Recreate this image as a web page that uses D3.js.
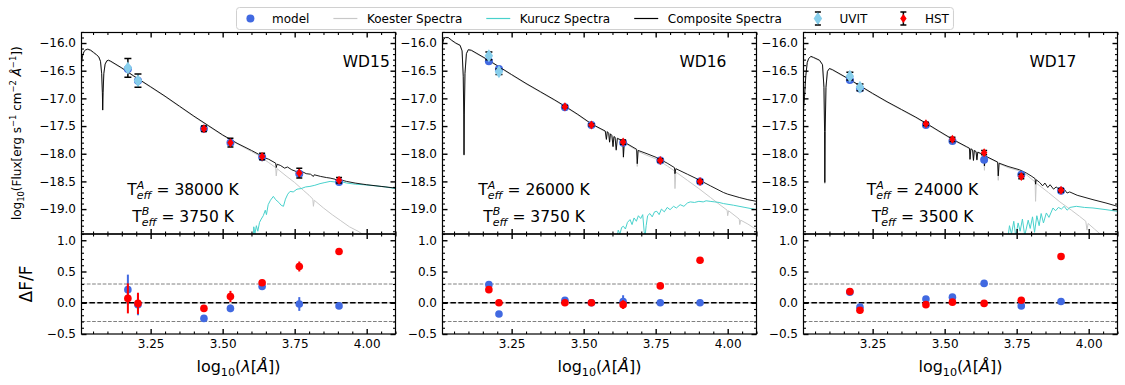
<!DOCTYPE html>
<html>
<head>
<meta charset="utf-8">
<script src="https://cdn.jsdelivr.net/npm/d3@7"></script>
<style>
  body { margin: 0; background: #fff; }
  svg text { font-family: "DejaVu Sans", sans-serif; fill: #000; }
</style>
</head>
<body>
<svg id="chart" width="1125" height="385"></svg>
<script>
////////////////////////////////////////////////////////////////////
/////////////////////////////// Data ///////////////////////////////
////////////////////////////////////////////////////////////////////

var starNames = ["WD15", "WD16", "WD17"];
var teffA = [38000, 26000, 24000];
var teffB = [3750, 3750, 3500];

var xTickValues = [3.25, 3.50, 3.75, 4.00];
var fluxTickValues = [-16.0, -16.5, -17.0, -17.5, -18.0, -18.5, -19.0];
var residTickValues = [-0.5, 0.0, 0.5, 1.0];
var residBands = [-0.3, 0.3];

var uvitLogLam = [3.171, 3.206];
var hstLogLam = [3.435, 3.527, 3.637, 3.766, 3.904];
var filterLogLam = [3.171, 3.206, 3.435, 3.527, 3.637, 3.766, 3.904];

// ---- WD15 ----
var wd15UvitFlux = [-16.45, -16.68];
var wd15UvitErr = [0.17, 0.12];
var wd15HstFlux = [-17.55, -17.80, -18.05, -18.35, -18.48];
var wd15HstErr = [0.05, 0.08, 0.06, 0.09, 0.05];
var wd15ModelFlux = [-16.47, -16.68, -17.55, -17.80, -18.06, -18.36, -18.51];
var wd15ResidModel = [0.21, -0.03, -0.25, -0.09, 0.26, -0.02, -0.05];
var wd15ResidModelErr = [0.24, 0.17, 0.02, 0.06, 0.03, 0.11, 0.02];
var wd15ResidSingle = [0.07, -0.01, -0.09, 0.10, 0.32, 0.58, 0.82];
var wd15ResidSingleErr = [0.24, 0.17, 0.03, 0.09, 0.05, 0.08, 0.03];
var wd15Koester = [
  [3.010,-16.37],[3.014,-16.23],[3.019,-16.16],[3.025,-16.13],[3.032,-16.12],[3.042,-16.14],
  [3.052,-16.18],[3.062,-16.22],[3.070,-16.26],[3.076,-16.34],[3.080,-16.56],[3.0825,-16.90],
  [3.0836,-17.22],[3.0850,-16.90],[3.0875,-16.56],[3.092,-16.39],[3.098,-16.33],[3.104,-16.32],
  [3.112,-16.34],[3.15,-16.46],[3.19,-16.60],[3.25,-16.80],[3.30,-16.97],[3.35,-17.15],
  [3.40,-17.33],[3.45,-17.50],[3.50,-17.67],[3.55,-17.82],[3.60,-17.96],[3.625,-18.03],
  [3.635,-18.07],[3.637,-18.15],[3.640,-18.09],[3.66,-18.16],[3.684,-18.25],[3.686,-18.40],
  [3.689,-18.27],[3.72,-18.40],[3.75,-18.52],[3.78,-18.66],[3.80,-18.75],[3.813,-18.82],
  [3.815,-18.95],[3.818,-18.84],[3.85,-18.98],[3.88,-19.10],[3.91,-19.21],[3.94,-19.32],
  [3.97,-19.40],[4.00,-19.50]
];
var wd15Kurucz = [
  [3.606,-19.60],[3.608,-19.32],[3.612,-19.45],[3.617,-19.30],[3.622,-19.40],[3.628,-19.24],
  [3.634,-19.18],[3.641,-19.12],[3.648,-19.02],[3.652,-19.10],[3.658,-18.92],[3.666,-18.84],
  [3.676,-18.77],[3.684,-18.83],[3.695,-18.88],[3.703,-18.93],[3.711,-18.95],[3.718,-18.82],
  [3.726,-18.73],[3.734,-18.68],[3.745,-18.69],[3.758,-18.64],[3.772,-18.63],[3.788,-18.60],
  [3.803,-18.59],[3.820,-18.57],[3.838,-18.54],[3.855,-18.52],[3.873,-18.50],[3.890,-18.51],
  [3.903,-18.56],[3.908,-18.50],[3.931,-18.53],[3.960,-18.55],[3.989,-18.56],[4.030,-18.58],
  [4.065,-18.60],[4.100,-18.63]
];
var wd15Composite = [
  [3.010,-16.36],[3.014,-16.22],[3.019,-16.15],[3.025,-16.12],[3.032,-16.11],[3.042,-16.13],
  [3.052,-16.17],[3.062,-16.21],[3.070,-16.25],[3.076,-16.33],[3.080,-16.55],[3.0825,-16.90],
  [3.0836,-17.21],[3.0850,-16.90],[3.0875,-16.55],[3.092,-16.38],[3.098,-16.32],[3.104,-16.31],
  [3.112,-16.33],[3.15,-16.45],[3.19,-16.59],[3.25,-16.79],[3.30,-16.96],[3.35,-17.14],
  [3.40,-17.32],[3.45,-17.49],[3.50,-17.66],[3.55,-17.81],[3.60,-17.94],[3.625,-18.01],
  [3.635,-18.04],[3.637,-18.12],[3.640,-18.06],[3.66,-18.10],[3.684,-18.17],[3.686,-18.25],
  [3.689,-18.19],[3.70,-18.21],[3.715,-18.26],[3.725,-18.24],[3.74,-18.29],[3.76,-18.33],
  [3.775,-18.32],[3.79,-18.36],[3.805,-18.37],[3.815,-18.41],[3.818,-18.38],[3.84,-18.41],
  [3.86,-18.43],[3.873,-18.44],[3.89,-18.46],[3.903,-18.50],[3.908,-18.47],[3.93,-18.50],
  [3.96,-18.53],[4.00,-18.56],[4.05,-18.59],[4.10,-18.62]
];

// ---- WD16 ----
var wd16UvitFlux = [-16.23, -16.52];
var wd16UvitErr = [0.07, 0.05];
var wd16HstFlux = [-17.15, -17.48, -17.79, -18.12, -18.50];
var wd16HstErr = [0.02, 0.02, 0.04, 0.03, 0.03];
var wd16ModelFlux = [-16.33, -16.47, -17.16, -17.48, -17.80, -18.12, -18.50];
var wd16ResidModel = [0.29, -0.18, 0.04, 0.00, 0.02, 0.00, 0.00];
var wd16ResidModelErr = [0.02, 0.02, 0.02, 0.02, 0.10, 0.02, 0.02];
var wd16ResidSingle = [0.21, 0.00, 0.00, 0.00, -0.03, 0.27, 0.68];
var wd16ResidSingleErr = [0.02, 0.02, 0.02, 0.02, 0.07, 0.02, 0.02];
var wd16Koester = [
  [3.010,-16.03],[3.014,-15.94],[3.020,-15.91],[3.030,-15.91],[3.042,-15.96],[3.056,-16.01],
  [3.071,-16.05],[3.078,-16.15],[3.082,-16.60],[3.0838,-17.30],[3.0847,-18.03],[3.0858,-17.30],
  [3.088,-16.55],[3.093,-16.20],[3.0996,-16.13],[3.11,-16.14],[3.17,-16.32],[3.25,-16.58],
  [3.30,-16.74],[3.35,-16.89],[3.40,-17.04],[3.435,-17.15],[3.48,-17.30],[3.527,-17.47],
  [3.56,-17.56],[3.575,-17.60],[3.579,-17.75],[3.582,-17.61],[3.587,-17.64],[3.590,-17.80],
  [3.593,-17.65],[3.598,-17.68],[3.602,-17.88],[3.605,-17.70],[3.609,-17.71],[3.613,-17.95],
  [3.617,-17.73],[3.636,-17.78],[3.638,-18.08],[3.641,-17.80],[3.684,-17.94],[3.686,-18.23],
  [3.689,-17.96],[3.72,-18.03],[3.754,-18.10],[3.79,-18.22],[3.815,-18.31],[3.817,-18.63],
  [3.820,-18.33],[3.86,-18.48],[3.90,-18.63],[3.94,-18.79],[3.98,-18.95],[3.998,-19.02],
  [4.000,-19.12],[4.003,-19.03],[4.040,-19.18],[4.042,-19.28],[4.045,-19.20],[4.070,-19.27],
  [4.100,-19.37]
];
var wd16Kurucz = [
  [3.615,-19.55],[3.620,-19.38],[3.626,-19.45],[3.632,-19.33],[3.638,-19.31],[3.645,-19.36],
  [3.652,-19.24],[3.661,-19.19],[3.668,-19.28],[3.675,-19.16],[3.683,-19.22],[3.690,-19.12],
  [3.698,-19.17],[3.705,-19.10],[3.710,-19.40],[3.713,-19.50],[3.717,-19.30],[3.722,-19.12],
  [3.730,-19.08],[3.738,-19.14],[3.746,-19.05],[3.754,-19.04],[3.762,-19.10],[3.770,-19.00],
  [3.780,-19.05],[3.790,-18.97],[3.800,-19.01],[3.812,-18.95],[3.822,-18.98],[3.835,-18.92],
  [3.848,-18.95],[3.860,-18.89],[3.870,-18.87],[3.885,-18.88],[3.900,-18.86],[3.915,-18.87],
  [3.925,-18.85],[3.939,-18.86],[3.955,-18.87],[3.970,-18.88],[3.985,-18.90],[4.020,-18.93],
  [4.060,-18.97],[4.100,-19.01]
];
var wd16Composite = [
  [3.010,-16.02],[3.014,-15.93],[3.020,-15.90],[3.030,-15.90],[3.042,-15.95],[3.056,-16.00],
  [3.071,-16.04],[3.078,-16.14],[3.082,-16.60],[3.0838,-17.30],[3.0847,-18.02],[3.0858,-17.30],
  [3.088,-16.55],[3.093,-16.19],[3.0996,-16.12],[3.11,-16.13],[3.17,-16.31],[3.25,-16.57],
  [3.30,-16.73],[3.35,-16.88],[3.40,-17.03],[3.435,-17.14],[3.48,-17.29],[3.527,-17.46],
  [3.56,-17.55],[3.575,-17.59],[3.579,-17.74],[3.582,-17.60],[3.587,-17.63],[3.590,-17.79],
  [3.593,-17.64],[3.598,-17.67],[3.602,-17.87],[3.605,-17.69],[3.609,-17.70],[3.613,-17.93],
  [3.617,-17.72],[3.636,-17.77],[3.638,-18.06],[3.641,-17.79],[3.684,-17.92],[3.686,-18.18],
  [3.689,-17.94],[3.72,-18.00],[3.754,-18.07],[3.79,-18.17],[3.815,-18.25],[3.817,-18.36],
  [3.820,-18.27],[3.86,-18.37],[3.90,-18.47],[3.94,-18.58],[3.985,-18.70],[4.00,-18.73],
  [4.04,-18.79],[4.07,-18.83],[4.10,-18.86]
];

// ---- WD17 ----
var wd17UvitFlux = [-16.60, -16.80];
var wd17UvitErr = [0.07, 0.06];
var wd17HstFlux = [-17.46, -17.74, -17.98, -18.41, -18.66];
var wd17HstErr = [0.03, 0.04, 0.04, 0.04, 0.03];
var wd17ModelFlux = [-16.67, -16.82, -17.48, -17.77, -18.11, -18.38, -18.67];
var wd17ResidModel = [0.17, -0.07, 0.06, 0.09, 0.31, -0.05, 0.02];
var wd17ResidModelErr = [0.02, 0.03, 0.02, 0.02, 0.02, 0.02, 0.02];
var wd17ResidSingle = [0.18, -0.12, -0.03, 0.01, -0.01, 0.04, 0.74];
var wd17ResidSingleErr = [0.03, 0.05, 0.02, 0.02, 0.02, 0.02, 0.02];
var wd17Koester = [
  [3.010,-17.20],[3.0135,-16.98],[3.018,-16.60],[3.023,-16.36],[3.028,-16.29],[3.0355,-16.25],
  [3.045,-16.27],[3.0656,-16.32],[3.076,-16.40],[3.081,-16.80],[3.0832,-17.60],[3.084,-18.54],
  [3.0852,-17.60],[3.088,-16.80],[3.093,-16.52],[3.100,-16.47],[3.110,-16.49],[3.171,-16.67],
  [3.25,-16.92],[3.30,-17.07],[3.35,-17.21],[3.40,-17.35],[3.436,-17.46],[3.48,-17.60],
  [3.528,-17.75],[3.575,-17.88],[3.586,-17.91],[3.588,-18.11],[3.591,-17.92],[3.597,-17.94],
  [3.600,-18.13],[3.603,-17.95],[3.609,-17.97],[3.612,-18.12],[3.615,-17.98],[3.636,-18.03],
  [3.638,-18.30],[3.641,-18.05],[3.684,-18.16],[3.686,-18.48],[3.689,-18.18],[3.72,-18.25],
  [3.76,-18.31],[3.784,-18.38],[3.80,-18.45],[3.814,-18.51],[3.8156,-18.86],[3.818,-18.53],
  [3.86,-18.70],[3.90,-18.87],[3.94,-19.02],[3.968,-19.13],[3.990,-19.22],[3.994,-19.38],
  [3.998,-19.26],[4.020,-19.36],[4.040,-19.45],[4.060,-19.53]
];
var wd17Kurucz = [
  [3.719,-19.55],[3.725,-19.30],[3.732,-19.45],[3.740,-19.22],[3.747,-19.50],[3.755,-19.25],
  [3.762,-19.40],[3.770,-19.18],[3.778,-19.48],[3.790,-19.20],[3.797,-19.35],[3.805,-19.14],
  [3.812,-19.42],[3.820,-19.12],[3.828,-19.30],[3.835,-19.08],[3.843,-19.25],[3.853,-19.07],
  [3.862,-19.15],[3.876,-18.98],[3.885,-19.03],[3.895,-18.97],[3.905,-19.00],[3.915,-18.95],
  [3.925,-19.02],[3.935,-18.97],[3.957,-18.95],[3.985,-18.97],[4.015,-18.98],[4.060,-19.01],
  [4.100,-19.04]
];
var wd17Composite = [
  [3.010,-17.18],[3.0135,-16.97],[3.018,-16.59],[3.023,-16.35],[3.028,-16.28],[3.0355,-16.24],
  [3.045,-16.26],[3.0656,-16.31],[3.076,-16.39],[3.081,-16.80],[3.0832,-17.60],[3.084,-18.52],
  [3.0852,-17.60],[3.088,-16.80],[3.093,-16.51],[3.100,-16.46],[3.110,-16.48],[3.171,-16.66],
  [3.25,-16.91],[3.30,-17.06],[3.35,-17.20],[3.40,-17.34],[3.436,-17.45],[3.48,-17.59],
  [3.528,-17.74],[3.575,-17.87],[3.586,-17.90],[3.588,-18.10],[3.591,-17.91],[3.597,-17.93],
  [3.600,-18.12],[3.603,-17.94],[3.609,-17.96],[3.612,-18.11],[3.615,-17.97],[3.636,-18.02],
  [3.638,-18.22],[3.641,-18.04],[3.684,-18.15],[3.686,-18.40],[3.689,-18.17],[3.72,-18.23],
  [3.76,-18.29],[3.784,-18.35],[3.80,-18.40],[3.814,-18.45],[3.8156,-18.55],[3.818,-18.47],
  [3.83,-18.52],[3.840,-18.58],[3.848,-18.53],[3.858,-18.61],[3.866,-18.56],[3.878,-18.64],
  [3.887,-18.60],[3.897,-18.64],[3.905,-18.66],[3.915,-18.64],[3.925,-18.71],[3.934,-18.69],
  [3.96,-18.75],[4.015,-18.83],[4.06,-18.89],[4.10,-18.95]
];

var panels = [
  { name: starNames[0], teffA: teffA[0], teffB: teffB[0],
    uvit: wd15UvitFlux, uvitErr: wd15UvitErr, hst: wd15HstFlux, hstErr: wd15HstErr, model: wd15ModelFlux,
    residModel: wd15ResidModel, residModelErr: wd15ResidModelErr,
    residSingle: wd15ResidSingle, residSingleErr: wd15ResidSingleErr,
    koester: wd15Koester, kurucz: wd15Kurucz, composite: wd15Composite },
  { name: starNames[1], teffA: teffA[1], teffB: teffB[1],
    uvit: wd16UvitFlux, uvitErr: wd16UvitErr, hst: wd16HstFlux, hstErr: wd16HstErr, model: wd16ModelFlux,
    residModel: wd16ResidModel, residModelErr: wd16ResidModelErr,
    residSingle: wd16ResidSingle, residSingleErr: wd16ResidSingleErr,
    koester: wd16Koester, kurucz: wd16Kurucz, composite: wd16Composite },
  { name: starNames[2], teffA: teffA[2], teffB: teffB[2],
    uvit: wd17UvitFlux, uvitErr: wd17UvitErr, hst: wd17HstFlux, hstErr: wd17HstErr, model: wd17ModelFlux,
    residModel: wd17ResidModel, residModelErr: wd17ResidModelErr,
    residSingle: wd17ResidSingle, residSingleErr: wd17ResidSingleErr,
    koester: wd17Koester, kurucz: wd17Kurucz, composite: wd17Composite }
];

////////////////////////////////////////////////////////////////////
///////////////////////////// Layout ///////////////////////////////
////////////////////////////////////////////////////////////////////

var panelLeft = [81.5, 442.5, 803.5];
var panelWidth = 314;
var topY = 32.5, midY = 234, botY = 334;
var hTop = midY - topY, hBot = botY - midY;
var titleCx = [284.8, 260.5, 249.5];
var teffCx = [102.5, 92.5, 120];

var col = {
  model: "#4169e1",
  koester: "#c8c8c8",
  kurucz: "#48d1cc",
  composite: "#000",
  uvit: "#87ceeb",
  hst: "#ff0000"
};

var svg = d3.select("#chart");
svg.append("rect").attr("width", 1125).attr("height", 385).attr("fill", "#fff");
var defs = svg.append("defs");

var x = d3.scaleLinear().domain([3.01, 4.10]).range([0, panelWidth]);
var yF = d3.scaleLinear().domain([-19.45, -15.81]).range([hTop, 0]);
var yR = d3.scaleLinear().domain([-0.5, 1.1]).range([hBot, 0]);

var xMinor = d3.range(61, 83).map(function(k) { return k / 20; })
  .filter(function(v) { return xTickValues.indexOf(v) < 0; });
var fluxMinor = d3.range(-194, -157).map(function(k) { return k / 10; })
  .filter(function(v) { return Math.round(v * 10) % 5 !== 0; });
var residMinor = d3.range(-5, 12).map(function(k) { return k / 10; })
  .filter(function(v) { return Math.round(v * 10) % 5 !== 0; });

function fmt(digits) {
  return function(d) { return d3.format("." + digits + "f")(d).replace("-", "\u2212"); };
}

//Inward ticks on one side of a frame
function drawTicks(g, scale, side, major, minor, w, h, labelFmt) {
  var axisFn = { left: d3.axisLeft, right: d3.axisRight, top: d3.axisTop, bottom: d3.axisBottom }[side];
  var tr = side === "right" ? "translate(" + w + ",0)" : side === "bottom" ? "translate(0," + h + ")" : null;
  var maj = g.append("g").attr("transform", tr)
    .call(axisFn(scale).tickValues(major).tickSize(-5).tickSizeOuter(0)
      .tickPadding(side === "left" ? 5.5 : 5).tickFormat(labelFmt ? labelFmt : ""));
  var mnr = g.append("g").attr("transform", tr)
    .call(axisFn(scale).tickValues(minor).tickSize(-2.5).tickSizeOuter(0).tickFormat(""));
  maj.select(".domain").remove();
  mnr.select(".domain").remove();
  maj.attr("font-family", null).attr("font-size", 12);
  maj.selectAll("line").attr("stroke-width", 1.4);
  mnr.selectAll("line").attr("stroke-width", 1.1);
}

//Text with sub/superscripts and italics
function rich(sel, parts, size) {
  var shift = 0;
  parts.forEach(function(p) {
    var target = p[1] === "sub" ? size * 0.22 : p[1] === "sup" ? -size * 0.38 : 0;
    var ts = sel.append("tspan").text(p[0]).attr("dy", target - shift);
    shift = target;
    if (p[1] === "sub" || p[1] === "sup") ts.attr("font-size", size * 0.7);
    if (p[2]) ts.attr("font-style", "italic");
  });
}

function diamond(w, h) {
  return "M0," + (-h / 2) + "L" + (w / 2) + ",0L0," + (h / 2) + "L" + (-w / 2) + ",0Z";
}

function errorBars(g, xs, ys, errs, yScale, color, cap, width) {
  xs.forEach(function(xv, i) {
    var cx = x(xv), y0 = yScale(ys[i] - errs[i]), y1 = yScale(ys[i] + errs[i]);
    g.append("line").attr("x1", cx).attr("x2", cx).attr("y1", y0).attr("y2", y1)
      .attr("stroke", color).attr("stroke-width", width);
    if (cap > 0) {
      [y0, y1].forEach(function(yy) {
        g.append("line").attr("x1", cx - cap).attr("x2", cx + cap).attr("y1", yy).attr("y2", yy)
          .attr("stroke", color).attr("stroke-width", width);
      });
    }
  });
}

////////////////////////////////////////////////////////////////////
///////////////////////////// Panels ///////////////////////////////
////////////////////////////////////////////////////////////////////

var line = d3.line()
  .x(function(d) { return x(d[0]); })
  .y(function(d) { return yF(d[1]); });

panels.forEach(function(p, i) {
  //---------------- SED panel ----------------
  var gt = svg.append("g").attr("transform", "translate(" + panelLeft[i] + "," + topY + ")");
  defs.append("clipPath").attr("id", "clipTop" + i)
    .append("rect").attr("width", panelWidth).attr("height", hTop);
  var plot = gt.append("g").attr("clip-path", "url(#clipTop" + i + ")");

  plot.append("path").datum(p.koester).attr("d", line)
    .attr("fill", "none").attr("stroke", col.koester).attr("stroke-width", 1);
  plot.append("path").datum(p.kurucz).attr("d", line)
    .attr("fill", "none").attr("stroke", col.kurucz).attr("stroke-width", 1);
  plot.append("path").datum(p.composite).attr("d", line)
    .attr("fill", "none").attr("stroke", col.composite).attr("stroke-width", 0.9);

  plot.selectAll(".model").data(d3.zip(filterLogLam, p.model)).enter()
    .append("circle").attr("class", "model")
    .attr("cx", function(d) { return x(d[0]); })
    .attr("cy", function(d) { return yF(d[1]); })
    .attr("r", 4).attr("fill", col.model);

  errorBars(plot, uvitLogLam, p.uvit, p.uvitErr, yF, "#000", 3.5, 1.5);
  plot.selectAll(".uvit").data(d3.zip(uvitLogLam, p.uvit)).enter()
    .append("path").attr("class", "uvit")
    .attr("transform", function(d) { return "translate(" + x(d[0]) + "," + yF(d[1]) + ")"; })
    .attr("d", diamond(8.5, 13)).attr("fill", col.uvit);

  errorBars(plot, hstLogLam, p.hst, p.hstErr, yF, "#000", 3, 1.5);
  plot.selectAll(".hst").data(d3.zip(hstLogLam, p.hst)).enter()
    .append("path").attr("class", "hst")
    .attr("transform", function(d) { return "translate(" + x(d[0]) + "," + yF(d[1]) + ")"; })
    .attr("d", diamond(6.5, 9)).attr("fill", col.hst);

  gt.append("text").attr("x", titleCx[i]).attr("y", 34.2)
    .attr("text-anchor", "middle").attr("font-size", 15.5).text(p.name);

  [[p.teffA, "A", 162.5], [p.teffB, "B", 189]].forEach(function(t) {
    var tx = gt.append("text").attr("x", 0).attr("y", t[2]).attr("font-size", 15.5);
    tx.append("tspan").text("T");
    var sup = tx.append("tspan").text(t[1]).attr("font-size", 11).attr("font-style", "italic").attr("dy", -6.5);
    var wSup = sup.node().getComputedTextLength();
    var sub = tx.append("tspan").text("eff").attr("font-size", 11).attr("font-style", "italic")
      .attr("dx", -wSup).attr("dy", 10.5);
    tx.append("tspan").text(" = " + t[0] + " K").attr("dy", -4);
    var bb = tx.node().getBBox();
    tx.attr("x", teffCx[i] - bb.width / 2);
  });

  gt.append("rect").attr("width", panelWidth).attr("height", hTop)
    .attr("fill", "none").attr("stroke", "#000").attr("stroke-width", 1.2);
  drawTicks(gt, yF, "left", fluxTickValues, fluxMinor, panelWidth, hTop, fmt(1));
  drawTicks(gt, yF, "right", fluxTickValues, fluxMinor, panelWidth, hTop, null);
  drawTicks(gt, x, "top", xTickValues, xMinor, panelWidth, hTop, null);
  drawTicks(gt, x, "bottom", xTickValues, xMinor, panelWidth, hTop, null);

  //---------------- Residual panel ----------------
  var gb = svg.append("g").attr("transform", "translate(" + panelLeft[i] + "," + midY + ")");

  residBands.forEach(function(v) {
    gb.append("line").attr("x1", 0).attr("x2", panelWidth).attr("y1", yR(v)).attr("y2", yR(v))
      .attr("stroke", "#808080").attr("stroke-width", 1).attr("stroke-dasharray", "3.7,1.6");
  });
  gb.append("line").attr("x1", 0).attr("x2", panelWidth).attr("y1", yR(0)).attr("y2", yR(0))
    .attr("stroke", "#d8d8d8").attr("stroke-width", 1.5);
  gb.append("line").attr("x1", 0).attr("x2", panelWidth).attr("y1", yR(0)).attr("y2", yR(0))
    .attr("stroke", "#000").attr("stroke-width", 1.5).attr("stroke-dasharray", "5.5,2.4");

  errorBars(gb, filterLogLam, p.residModel, p.residModelErr, yR, col.model, 0, 2);
  gb.selectAll(".rm").data(d3.zip(filterLogLam, p.residModel)).enter()
    .append("circle").attr("class", "rm")
    .attr("cx", function(d) { return x(d[0]); })
    .attr("cy", function(d) { return yR(d[1]); })
    .attr("r", 3.8).attr("fill", col.model);

  errorBars(gb, filterLogLam, p.residSingle, p.residSingleErr, yR, col.hst, 0, 2);
  gb.selectAll(".rs").data(d3.zip(filterLogLam, p.residSingle)).enter()
    .append("circle").attr("class", "rs")
    .attr("cx", function(d) { return x(d[0]); })
    .attr("cy", function(d) { return yR(d[1]); })
    .attr("r", 3.8).attr("fill", col.hst);

  gb.append("rect").attr("width", panelWidth).attr("height", hBot)
    .attr("fill", "none").attr("stroke", "#000").attr("stroke-width", 1.2);
  drawTicks(gb, yR, "left", residTickValues, residMinor, panelWidth, hBot, fmt(1));
  drawTicks(gb, yR, "right", residTickValues, residMinor, panelWidth, hBot, null);
  drawTicks(gb, x, "top", xTickValues, xMinor, panelWidth, hBot, null);
  drawTicks(gb, x, "bottom", xTickValues, xMinor, panelWidth, hBot, fmt(2));

  var xl = svg.append("text").attr("x", panelLeft[i] + panelWidth / 2).attr("y", 372)
    .attr("text-anchor", "middle").attr("font-size", 16);
  rich(xl, [["log", ""], ["10", "sub"], ["(", ""], ["\u03bb", "", true], ["[", ""], ["\u00c5", "", true], ["])", ""]], 16);
});

//Y labels
var yl = svg.append("text").attr("transform", "translate(21," + (topY + hTop / 2) + ") rotate(-90)")
  .attr("text-anchor", "middle").attr("font-size", 12);
rich(yl, [["log", ""], ["10", "sub"], ["(Flux[erg s", ""], ["\u22121", "sup"], [" cm", ""], ["\u22122", "sup"],
  [" ", ""], ["\u00c5", "", true], ["\u22121", "sup"], ["])", ""]], 12);

svg.append("text").attr("transform", "translate(32," + (midY + hBot / 2) + ") rotate(-90)")
  .attr("text-anchor", "middle").attr("font-size", 17).text("\u0394F/F");

////////////////////////////////////////////////////////////////////
///////////////////////////// Legend ///////////////////////////////
////////////////////////////////////////////////////////////////////

var legendItems = [
  { label: "model", kind: "dot", color: col.model },
  { label: "Koester Spectra", kind: "line", color: col.koester },
  { label: "Kurucz Spectra", kind: "line", color: col.kurucz },
  { label: "Composite Spectra", kind: "line", color: col.composite },
  { label: "UVIT", kind: "err", color: col.uvit, w: 8.5, h: 13 },
  { label: "HST", kind: "err", color: col.hst, w: 6.5, h: 9 }
];

var legend = svg.append("g");
var box = legend.append("rect").attr("x", 236.5).attr("y", 7.5).attr("height", 22).attr("rx", 3)
  .attr("fill", "#fff").attr("stroke", "#d0d0d0").attr("stroke-width", 1);
var cursor = 238.4, ly = 18.5;
legendItems.forEach(function(it) {
  var hc = cursor + 12;
  if (it.kind === "dot") {
    legend.append("circle").attr("cx", hc).attr("cy", ly).attr("r", 4).attr("fill", it.color);
  } else if (it.kind === "line") {
    legend.append("line").attr("x1", cursor).attr("x2", cursor + 24).attr("y1", ly).attr("y2", ly)
      .attr("stroke", it.color).attr("stroke-width", 1.2);
  } else {
    legend.append("line").attr("x1", hc).attr("x2", hc).attr("y1", ly - 6.5).attr("y2", ly + 6.5)
      .attr("stroke", "#000").attr("stroke-width", 1.5);
    [ly - 6.5, ly + 6.5].forEach(function(yy) {
      legend.append("line").attr("x1", hc - 3).attr("x2", hc + 3).attr("y1", yy).attr("y2", yy)
        .attr("stroke", "#000").attr("stroke-width", 1.5);
    });
    legend.append("path").attr("transform", "translate(" + hc + "," + ly + ")")
      .attr("d", diamond(it.w, it.h)).attr("fill", it.color);
  }
  var t = legend.append("text").attr("x", cursor + 33.6).attr("y", ly + 4.3)
    .attr("font-size", 12).text(it.label);
  cursor = cursor + 33.6 + t.node().getComputedTextLength() + 24;
});
box.attr("width", cursor - 24 + 4.5 - 236.5);
</script>
</body>
</html>
